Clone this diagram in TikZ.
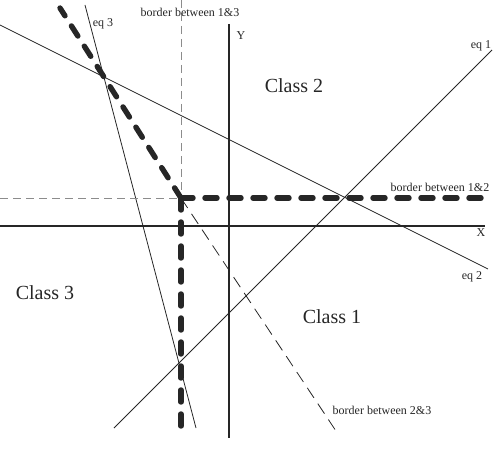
\documentclass[tikz,border=0pt]{standalone}
\usepackage{fontspec}
\setmainfont{Liberation Serif}
\usepackage{xcolor}
\usetikzlibrary{calc}
\definecolor{classink}{HTML}{262626}
\definecolor{classmuted}{HTML}{8C8C8C}

\begin{document}
\begin{tikzpicture}[
    x=1pt,
    y=-1pt,
    axis/.style={draw=classink, line width=2.8pt},
    eqline/.style={draw=classink, line width=0.8pt},
    borderline/.style={draw=classink, line width=5.4pt, line cap=round, dash pattern=on 12pt off 12pt},
    guide/.style={draw=classmuted, line width=0.9pt, dash pattern=on 8pt off 5pt},
    guidedark/.style={draw=classink, line width=0.8pt, dash pattern=on 12pt off 7pt},
    eqtext/.style={font=\fontsize{12}{14}\selectfont, text=classink, inner sep=0pt},
    region/.style={font=\fontsize{20}{24}\selectfont, text=classink, inner sep=0pt}
  ]
    \useasboundingbox (0,0) rectangle (493,460);

    \coordinate (corner) at (181,198);

    % 1. Axes
    \coordinate (X-start) at (0,226);
    \coordinate (X-end) at (485,226);
    \coordinate (Y-start) at (229,24);
    \coordinate (Y-end) at (229,438);
    \draw[axis] (X-start) -- (X-end);
    \draw[axis] (Y-start) -- (Y-end);
    \node[eqtext] (L-X) at (481,233) {X};
    \node[eqtext] (L-Y) at (241,36) {Y};

    % 2. Equation lines
    \coordinate (eq1-a) at (114,428);
    \coordinate (eq1-b) at (492,50);
    \coordinate (eq2-a) at (0,25);
    \coordinate (eq2-b) at (488,269);
    \coordinate (eq3-a) at (85,5);
    \coordinate (eq3-b) at (196,428);
    \draw[eqline] (eq1-a) -- (eq1-b);
    \draw[eqline] (eq2-a) -- (eq2-b);
    \draw[eqline] (eq3-a) -- (eq3-b);
    \node[eqtext] (L-eq1) at (481,46) {eq 1};
    \node[eqtext] (L-eq2) at (472,277) {eq 2};
    \node[eqtext] (L-eq3) at (103,24) {eq 3};

    % 3. Thin borders
    \coordinate (b13-top) at (181,0);
    \coordinate (b13-left) at (0,198);
    \coordinate (b23-end) at (338,434);
    \draw[guide] (b13-top) -- (corner);
    \draw[guide] (b13-left) -- (corner);
    \draw[guidedark] (corner) -- (b23-end);

    % 4. Decision borders
    \coordinate (thick-top) at (60,8);
    \coordinate (thick-right) at (490,198);
    \coordinate (thick-bottom) at (181,427);
    \draw[borderline] (corner) -- (thick-top);
    \draw[borderline] (corner) -- (thick-right);
    \draw[borderline] (corner) -- (thick-bottom);

    \node[eqtext] (L-b13) at (190,12) {border between 1\&3};
    \node[eqtext] (L-b12) at (440,187) {border between 1\&2};
    \node[eqtext] (L-b23) at (382,410) {border between 2\&3};

    % 5. Classes
    \node[region] (C-two) at (294,86) {Class 2};
    \node[region] (C-three) at (45,293) {Class 3};
    \node[region] (C-one) at (332,317) {Class 1};

  \end{tikzpicture}
\end{document}
